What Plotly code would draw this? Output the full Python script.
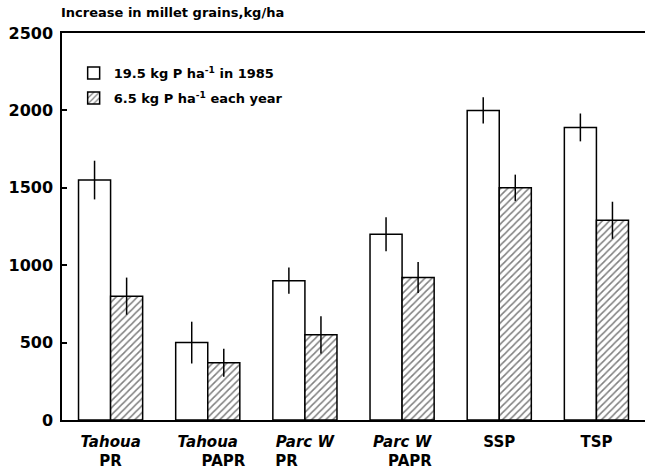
import plotly.graph_objects as go

categories = ["<i>Tahoua</i><br>PR",
              "<i>Tahoua</i><br>&nbsp;&nbsp;&nbsp;&nbsp;&nbsp;&nbsp;PAPR",
              "<i>Parc W</i><br>PR&nbsp;&nbsp;&nbsp;&nbsp;&nbsp;&nbsp;&nbsp;",
              "<i>Parc W</i><br>&nbsp;&nbsp;&nbsp;PAPR", "SSP", "TSP"]
single_dose = [1550, 500, 900, 1200, 2000, 1890]
single_err = [125, 135, 85, 110, 85, 90]
annual_dose = [800, 370, 550, 920, 1500, 1290]
annual_err = [120, 90, 120, 100, 85, 120]
y_ticks = [0, 500, 1000, 1500, 2000, 2500]

x = list(range(len(categories)))
font = "DejaVu Sans, Liberation Sans, sans-serif"

fig = go.Figure()
fig.add_trace(go.Bar(
    x=x, y=single_dose, name="19.5 kg P ha<sup>-1</sup> in 1985", legendgroup="a",
    marker=dict(color="white", line=dict(color="black", width=1.5)),
    error_y=dict(type="data", array=single_err, color="black", thickness=1.5, width=0),
))
fig.add_trace(go.Bar(
    x=x, y=annual_dose, name="6.5 kg P ha<sup>-1</sup> each year", legendgroup="b",
    marker=dict(color="white", line=dict(color="black", width=1.5),
                pattern=dict(shape="/", fgcolor="black", bgcolor="white", size=5, solidity=0.3)),
    error_y=dict(type="data", array=annual_err, color="black", thickness=1.5, width=0),
))

fig.update_layout(
    width=645, height=471,
    margin=dict(l=62, r=0, t=33, b=51),
    plot_bgcolor="white", paper_bgcolor="white",
    barmode="group", bargap=0.34, bargroupgap=0,
    font=dict(family=font, color="black"),
    showlegend=True,
    legend=dict(x=0.02, y=0.935, xanchor="left", yanchor="top",
                font=dict(size=13, family=font, weight="bold"),
                bgcolor="rgba(0,0,0,0)", traceorder="grouped", tracegroupgap=5),
    annotations=[dict(text="<b>Increase in millet grains,kg/ha</b>", x=-0.005, xref="paper",
                      xanchor="left", y=1, yref="paper", yanchor="bottom", yshift=11,
                      showarrow=False, font=dict(size=13, family=font))],
)
fig.update_xaxes(
    tickvals=x, ticktext=categories, range=[-0.5, 5.5],
    showline=True, linecolor="black", linewidth=1.5, mirror="all",
    ticks="", showgrid=False, zeroline=False, ticklabelstandoff=7,
    tickfont=dict(size=15, family=font, weight="bold"),
)
fig.update_yaxes(
    range=[0, 2500], tickvals=y_ticks,
    showline=True, linecolor="black", linewidth=1.5,
    ticks="inside", ticklen=5, tickwidth=1.5, tickcolor="black",
    showgrid=False, zeroline=False, ticklabelstandoff=4,
    tickfont=dict(size=16, family=font, weight="bold"),
)

fig.write_html("out.html", config={"displayModeBar": False},
               post_script="document.body.style.margin='0';document.body.style.overflow='hidden';")
